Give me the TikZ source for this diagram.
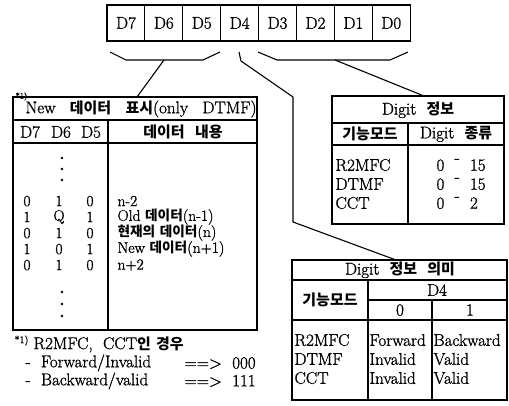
\documentclass[tikz,border=0pt]{standalone}
\usepackage{fontspec}
\setmainfont{Latin Modern Roman}[FakeBold=1.2]
\newfontfamily\kr{Noto Sans CJK KR}[Scale=0.88]
\newcommand\K[1]{{\kr\bfseries #1}}
\begin{document}
\begin{tikzpicture}[x=1pt,y=-1pt,line width=1.1pt,
  txt/.style={inner sep=0pt,font=\fontsize{17}{18}\selectfont},
  rowtxt/.style={inner sep=0pt,font=\fontsize{15.5}{16}\selectfont},
  bitbox/.style={draw,minimum width=37.9pt,minimum height=36pt,inner sep=0pt,font=\fontsize{17}{18}\selectfont},
  dotmark/.style={circle,fill,inner sep=0pt,minimum size=2.8pt}]
\useasboundingbox (0,0) rectangle (509,405);
\newcommand\rng{\raisebox{0.45em}{-}}
% top bit boxes
\foreach \i/\lab in {0/D7,1/D6,2/D5,3/D4,4/D3,5/D2,6/D1,7/D0}
  \node[bitbox] (b\i) at ({107+37.9*\i+18.95},23) {\lab};
% braces and connectors
\coordinate (lbA) at (110,52); \coordinate (lbB) at (126,60);
\coordinate (lbC) at (203,60); \coordinate (lbD) at (220,52);
\coordinate (lbM) at (164,60); \coordinate (lbE) at (137,97);
\draw (lbA) -- (lbB) -- (lbC) -- (lbD);
\draw (lbM) -- (lbE);
\coordinate (d4A) at (239,52); \coordinate (d4B) at (241,61);
\coordinate (d4C) at (293,97); \coordinate (d4D) at (293,222);
\coordinate (d4E) at (396,260);
\draw (d4A) -- (d4B) -- (d4C) -- (d4D) -- (d4E);
\coordinate (rbA) at (258,52); \coordinate (rbB) at (277,60);
\coordinate (rbC) at (390,60); \coordinate (rbD) at (408,52);
\coordinate (rbM) at (335,60); \coordinate (rbE) at (424,96);
\draw (rbA) -- (rbB) -- (rbC) -- (rbD);
\draw (rbM) -- (rbE);
% left table
\draw (13,97) rectangle (257,330);
\draw (13,120) -- (257,120);
\draw (13,143) -- (257,143);
\draw (108,120) -- (108,330);
\node[txt,anchor=west] (ttl) at (25,109) {\makebox[231pt][s]{New \K{데이터} \K{표시}(only DTMF)}};
\node[txt,font=\fontsize{8}{9}\selectfont,anchor=north west] (ftm) at (15,92) {*1)};
\node[txt] (h7) at (30,132) {D7};
\node[txt] (h6) at (61,132) {D6};
\node[txt] (h5) at (91,132) {D5};
\node[txt] (hc) at (183,132) {\K{데이터}\ \ \K{내용}};
\foreach \y in {158,169,180,292,304,316} \node[dotmark] at (62,\y) {};
\foreach \y/\a/\b/\c/\t in {201/0/1/0/{n-2},217/1/Q/1/{Old \K{데이터}(n-1)},233/0/1/0/{\K{현재의} \K{데이터}(n)},249/1/0/1/{New \K{데이터}(n+1)},265/0/1/0/{n+2}}{
  \node[rowtxt] at (27,\y) {\a};
  \node[rowtxt] at (59,\y) {\b};
  \node[rowtxt] at (90,\y) {\c};
  \node[rowtxt,anchor=west] at (117,\y) {\t};
}
% footnote
\node[txt,anchor=west] (fn1) at (14,344) {\raisebox{0.35em}{\fontsize{10}{11}\selectfont *1)} R2MFC,\ \ CCT\K{인} \K{경우}};
\node[txt,anchor=west] (fn2) at (25,363) {-\ \ Forward/Invalid};
\node[txt,anchor=west] (fn3) at (25,381) {-\ \ Backward/valid};
\node[txt,anchor=west] (fa2) at (184,363) {==>\ \ 000};
\node[txt,anchor=west] (fa3) at (184,381) {==>\ \ 111};
% table 1: Digit info
\draw (332,96) rectangle (504,224);
\draw (332,123) -- (504,123);
\draw (332,145) -- (504,145);
\draw (408,123) -- (408,224);
\node[txt] (t1t) at (418,110) {Digit\ \ \K{정보}};
\node[txt] (t1a) at (370,134) {\K{기능모드}};
\node[txt] (t1b) at (456,134) {Digit\ \ \K{종류}};
\foreach \y/\m/\r in {165/R2MFC/15,184/DTMF/15,203/CCT/2}{
  \node[txt,anchor=west] at (335,\y) {\m};
  \node[txt,anchor=west] at (436,\y) {0\ \ \rng\ \ \r};
}
% table 2: Digit info meaning
\draw (292,260) rectangle (507,400);
\draw (292,280) -- (507,280);
\draw (368,300) -- (507,300);
\draw (292,320) -- (507,320);
\draw (368,280) -- (368,400);
\draw (432,300) -- (432,400);
\node[txt] (t2t) at (400,270) {Digit\ \ \K{정보}\ \ \K{의미}};
\node[txt] (t2a) at (330,300) {\K{기능모드}};
\node[txt] (t2d) at (437,290) {D4};
\node[txt] (t2z) at (400,310) {0};
\node[txt] (t2o) at (470,310) {1};
\foreach \y/\m/\p/\q in {340/R2MFC/Forward/Backward,359/DTMF/Invalid/Valid,378/CCT/Invalid/Valid}{
  \node[txt,anchor=west] at (294,\y) {\m};
  \node[txt,anchor=west] at (369,\y) {\p};
  \node[txt,anchor=west] at (433,\y) {\q};
}
\end{tikzpicture}
\end{document}
